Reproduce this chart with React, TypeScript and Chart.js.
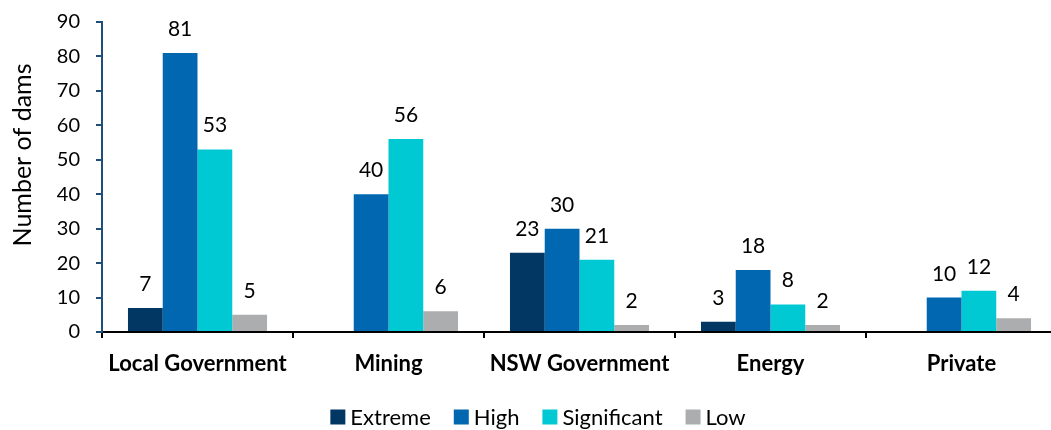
import React, { useEffect, useRef } from "react";
import { Chart, registerables } from "chart.js";

Chart.register(...registerables);

// Dam counts by owner sector and consequence category
const categories = ["Local Government", "Mining", "NSW Government", "Energy", "Private"];
const extreme = [7, 0, 23, 3, 0];
const high = [81, 40, 30, 18, 10];
const significant = [53, 56, 21, 8, 12];
const low = [5, 6, 2, 2, 4];
const seriesNames = ["Extreme", "High", "Significant", "Low"];
const seriesColors = ["#033763", "#0067B0", "#00C9D3", "#ABADAF"];
const yAxisTitle = "Number of dams";

const FONT = "Lato, 'Open Sans', sans-serif";

// Value labels above each non-zero bar
const valueLabels = {
  id: "valueLabels",
  afterDatasetsDraw(chart: any) {
    const ctx = chart.ctx;
    ctx.save();
    ctx.font = `21px ${FONT}`;
    ctx.fillStyle = "#000";
    ctx.textAlign = "center";
    ctx.textBaseline = "alphabetic";
    chart.data.datasets.forEach((ds: any, di: number) => {
      const meta = chart.getDatasetMeta(di);
      meta.data.forEach((bar: any, i: number) => {
        const v = ds.data[i];
        if (!v) return;
        ctx.fillText(String(v), bar.x, bar.y - 17);
      });
    });
    ctx.restore();
  },
};

// Rotated y-axis title
const yTitle = {
  id: "yTitle",
  afterDraw(chart: any) {
    const ctx = chart.ctx;
    ctx.save();
    ctx.translate(23, 155);
    ctx.rotate(-Math.PI / 2);
    ctx.font = `25px ${FONT}`;
    ctx.fillStyle = "#000";
    ctx.textAlign = "center";
    ctx.textBaseline = "middle";
    ctx.fillText(yAxisTitle, 0, 0);
    ctx.restore();
  },
};

// Legend row under the axis
const bottomLegend = {
  id: "bottomLegend",
  afterDraw(chart: any) {
    const ctx = chart.ctx;
    const box = 15;
    const gap = 5;
    const spacing = 23;
    const cy = 417;
    const centerX = 538;
    ctx.save();
    ctx.font = `22px ${FONT}`;
    const items = chart.data.datasets.map((ds: any) => ({
      label: ds.label,
      color: ds.backgroundColor,
      w: ctx.measureText(ds.label).width,
    }));
    const total =
      items.reduce((s: number, it: any) => s + box + gap + it.w, 0) + spacing * (items.length - 1);
    let x = centerX - total / 2;
    ctx.textAlign = "left";
    ctx.textBaseline = "middle";
    items.forEach((it: any) => {
      ctx.fillStyle = it.color;
      ctx.fillRect(x, cy - box / 2, box, box);
      x += box + gap;
      ctx.fillStyle = "#000";
      ctx.fillText(it.label, x, cy + 1);
      x += it.w + spacing;
    });
    ctx.restore();
  },
};

export default function App() {
  const canvasRef = useRef<HTMLCanvasElement | null>(null);

  useEffect(() => {
    if (!canvasRef.current) return;
    const seriesData = [extreme, high, significant, low];
    const chart = new Chart(canvasRef.current, {
      type: "bar",
      data: {
        labels: categories,
        datasets: seriesNames.map((name, i) => ({
          label: name,
          data: seriesData[i],
          backgroundColor: seriesColors[i],
          borderWidth: 0,
          categoryPercentage: 0.728,
          barPercentage: 1,
        })),
      },
      options: {
        responsive: false,
        animation: false,
        events: [],
        layout: { padding: { top: 22, right: 3, bottom: 48, left: 0 } },
        plugins: {
          legend: { display: false },
          tooltip: { enabled: false },
        },
        scales: {
          x: {
            offset: true,
            grid: {
              display: true,
              drawOnChartArea: false,
              drawTicks: true,
              tickLength: 6,
              color: "#000",
              lineWidth: 2,
              offset: true,
            },
            border: { display: true, color: "#000", width: 2 },
            ticks: {
              font: { family: FONT, size: 22, weight: "bold" },
              color: "#000",
              padding: 13,
              maxRotation: 0,
              autoSkip: false,
            },
            afterFit: (s: any) => {
              s.height = 50;
              s.paddingLeft = 0;
              s.paddingRight = 0;
            },
          },
          y: {
            min: 0,
            max: 90,
            ticks: {
              stepSize: 10,
              font: { family: FONT, size: 20 },
              color: "#000",
              padding: 16,
            },
            grid: {
              drawOnChartArea: false,
              drawTicks: true,
              tickLength: 6,
              color: "#1F4E79",
              lineWidth: 2,
            },
            border: { display: true, color: "#1F4E79", width: 2 },
            afterFit: (s: any) => {
              s.width = 102;
              s.paddingTop = 0;
              s.paddingBottom = 0;
            },
          },
        },
      },
      plugins: [valueLabels, yTitle, bottomLegend],
    });
    return () => chart.destroy();
  }, []);

  return (
    <div
      style={{
        position: "fixed",
        left: 0,
        top: 0,
        width: 1051,
        height: 430,
        overflow: "hidden",
        background: "#fff",
      }}
    >
      <canvas ref={canvasRef} width={1060} height={430} style={{ display: "block" }} />
    </div>
  );
}
